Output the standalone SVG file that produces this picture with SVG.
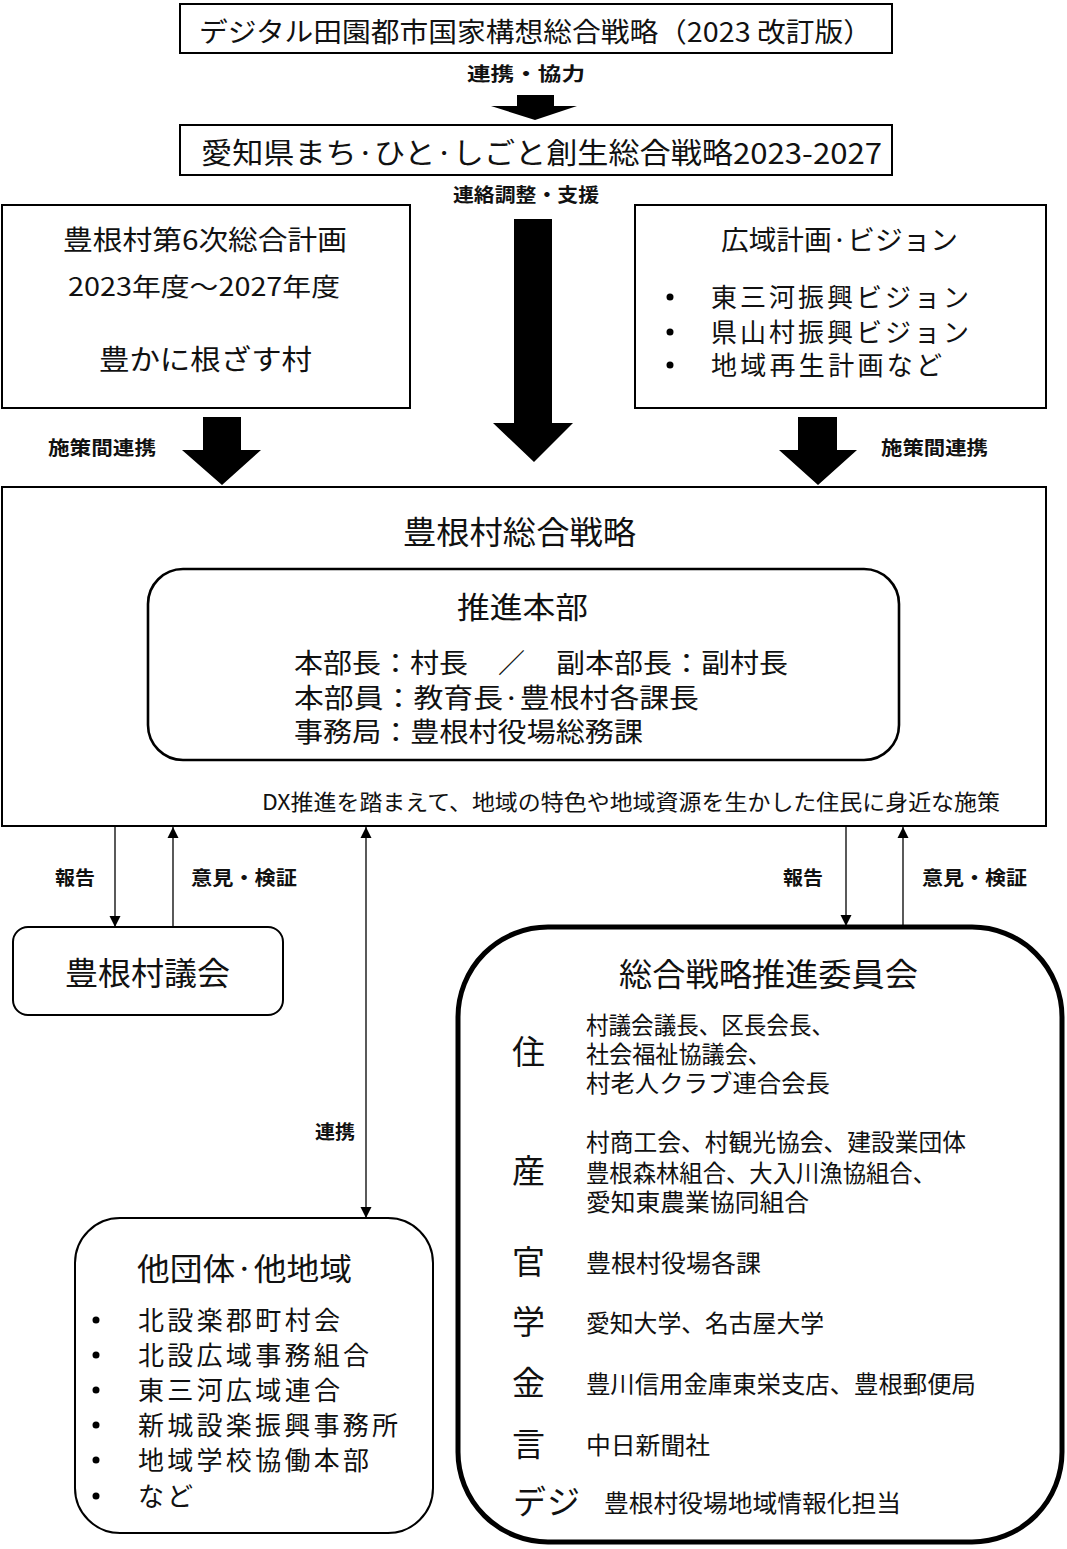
<svg xmlns="http://www.w3.org/2000/svg" width="1067" height="1549" viewBox="0 0 1067 1549">
<style>
text{font-family:"Noto Sans CJK JP","Noto Sans",sans-serif;fill:#111}
.box{fill:#fff;stroke:#000;stroke-width:2}
.lbl{font-size:19px;font-weight:bold}
.ln{stroke:#000;stroke-width:1.3;fill:none}
.big{font-size:33px}
.it{font-size:24px}
</style>
<defs>
<marker id="ah" viewBox="0 0 10 10" refX="10" refY="5" markerWidth="11" markerHeight="13" markerUnits="userSpaceOnUse" orient="auto"><path d="M0,0L10,5L0,10z" fill="#000"/></marker>
<marker id="ahs" viewBox="0 0 10 10" refX="10" refY="5" markerWidth="11" markerHeight="13" markerUnits="userSpaceOnUse" orient="auto-start-reverse"><path d="M0,0L10,5L0,10z" fill="#000"/></marker>
</defs>
<rect width="1067" height="1549" fill="#fff"/>

<g id="national">
<rect class="box" x="180" y="4" width="712" height="49"/>
<text x="199" y="42" font-size="27" textLength="673" lengthAdjust="spacingAndGlyphs">デジタル田園都市国家構想総合戦略（2023 改訂版）</text>
</g>

<g id="aichi">
<rect class="box" x="180" y="125" width="712" height="50"/>
<text x="201" y="163.5" font-size="29" textLength="681" lengthAdjust="spacingAndGlyphs">愛知県まち·ひと·しごと創生総合戦略2023-2027</text>
</g>

<g id="plan6">
<rect class="box" x="2" y="205" width="408" height="203"/>
<text x="63" y="250" font-size="27" textLength="284" lengthAdjust="spacingAndGlyphs">豊根村第6次総合計画</text>
<text x="68" y="296" font-size="25" textLength="272" lengthAdjust="spacingAndGlyphs">2023年度～2027年度</text>
<text x="99" y="370" font-size="28" textLength="213" lengthAdjust="spacingAndGlyphs">豊かに根ざす村</text>
</g>

<g id="vision">
<rect class="box" x="635" y="205" width="411" height="203"/>
<text x="721" y="250" font-size="27" textLength="237" lengthAdjust="spacingAndGlyphs">広域計画·ビジョン</text>
<circle cx="670" cy="297" r="3.5" fill="#000"/>
<circle cx="670" cy="332" r="3.5" fill="#000"/>
<circle cx="670" cy="365" r="3.5" fill="#000"/>
<text x="711" y="306.5" font-size="26" textLength="258" lengthAdjust="spacing">東三河振興ビジョン</text>
<text x="711" y="341.5" font-size="26" textLength="258" lengthAdjust="spacing">県山村振興ビジョン</text>
<text x="711" y="374.5" font-size="26" textLength="231" lengthAdjust="spacing">地域再生計画など</text>
</g>

<g id="strategy">
<rect class="box" x="2" y="487" width="1044" height="339"/>
<text x="403" y="544" font-size="32" textLength="233" lengthAdjust="spacingAndGlyphs">豊根村総合戦略</text>
<rect x="148" y="569" width="751" height="191" rx="35" fill="#fff" stroke="#000" stroke-width="2.6"/>
<text x="457" y="618" font-size="30" textLength="131" lengthAdjust="spacingAndGlyphs">推進本部</text>
<text x="294" y="673" font-size="27" textLength="174" lengthAdjust="spacingAndGlyphs">本部長：村長</text>
<text x="498" y="673" font-size="27">／</text>
<text x="556" y="673" font-size="27" textLength="232" lengthAdjust="spacingAndGlyphs">副本部長：副村長</text>
<text x="294" y="708" font-size="27" textLength="405" lengthAdjust="spacingAndGlyphs">本部員：教育長·豊根村各課長</text>
<text x="294" y="742" font-size="27" textLength="349" lengthAdjust="spacingAndGlyphs">事務局：豊根村役場総務課</text>
<text x="262" y="810" font-size="22" textLength="738" lengthAdjust="spacingAndGlyphs">DX推進を踏まえて、地域の特色や地域資源を生かした住民に身近な施策</text>
</g>

<g id="council">
<rect x="13" y="927" width="270" height="88" rx="15" fill="#fff" stroke="#000" stroke-width="2"/>
<text x="65" y="985" font-size="32" textLength="165" lengthAdjust="spacingAndGlyphs">豊根村議会</text>
</g>

<g id="others">
<rect x="75" y="1218" width="358" height="315" rx="45" fill="#fff" stroke="#000" stroke-width="2"/>
<text x="137" y="1279.5" font-size="31" textLength="215" lengthAdjust="spacingAndGlyphs">他団体·他地域</text>
<g fill="#000">
<circle cx="96" cy="1320" r="3.5"/><circle cx="96" cy="1355" r="3.5"/><circle cx="96" cy="1390" r="3.5"/>
<circle cx="96" cy="1425" r="3.5"/><circle cx="96" cy="1460" r="3.5"/><circle cx="96" cy="1496" r="3.5"/>
</g>
<text x="138" y="1329.5" font-size="26" textLength="202" lengthAdjust="spacing">北設楽郡町村会</text>
<text x="138" y="1364.5" font-size="26" textLength="231" lengthAdjust="spacing">北設広域事務組合</text>
<text x="138" y="1399.5" font-size="26" textLength="202" lengthAdjust="spacing">東三河広域連合</text>
<text x="138" y="1434.5" font-size="26" textLength="260" lengthAdjust="spacing">新城設楽振興事務所</text>
<text x="138" y="1469.5" font-size="26" textLength="231" lengthAdjust="spacing">地域学校協働本部</text>
<text x="138" y="1505.5" font-size="26" textLength="55" lengthAdjust="spacing">など</text>
</g>

<g id="committee">
<rect x="458" y="927" width="604" height="615" rx="90" fill="#fff" stroke="#000" stroke-width="5"/>
<text x="619" y="986" font-size="32" textLength="299" lengthAdjust="spacingAndGlyphs">総合戦略推進委員会</text>
<text class="big" x="512" y="1064">住</text>
<text class="it" x="586" y="1034" textLength="248" lengthAdjust="spacingAndGlyphs">村議会議長、区長会長、</text>
<text class="it" x="586" y="1063" textLength="185" lengthAdjust="spacingAndGlyphs">社会福祉協議会、</text>
<text class="it" x="586" y="1092" textLength="244" lengthAdjust="spacingAndGlyphs">村老人クラブ連合会長</text>
<text class="big" x="512" y="1183">産</text>
<text class="it" x="586" y="1151" textLength="380" lengthAdjust="spacingAndGlyphs">村商工会、村観光協会、建設業団体</text>
<text class="it" x="586" y="1182" textLength="350" lengthAdjust="spacingAndGlyphs">豊根森林組合、大入川漁協組合、</text>
<text class="it" x="586" y="1211" textLength="223" lengthAdjust="spacingAndGlyphs">愛知東農業協同組合</text>
<text class="big" x="512" y="1274">官</text>
<text class="it" x="586" y="1272" textLength="175" lengthAdjust="spacingAndGlyphs">豊根村役場各課</text>
<text class="big" x="512" y="1334">学</text>
<text class="it" x="586" y="1332" textLength="238" lengthAdjust="spacingAndGlyphs">愛知大学、名古屋大学</text>
<text class="big" x="512" y="1395">金</text>
<text class="it" x="586" y="1393" textLength="390" lengthAdjust="spacingAndGlyphs">豊川信用金庫東栄支店、豊根郵便局</text>
<text class="big" x="512" y="1456">言</text>
<text class="it" x="586" y="1454" textLength="124" lengthAdjust="spacingAndGlyphs">中日新聞社</text>
<text class="big" x="513" y="1514" textLength="67" lengthAdjust="spacing">デジ</text>
<text class="it" x="604" y="1512" textLength="297" lengthAdjust="spacingAndGlyphs">豊根村役場地域情報化担当</text>
</g>

<g id="connectors">
<polygon points="517,95 554,95 554,106 577,106 535,120 491,106 517,106" fill="#000"/>
<polygon points="514,219 552,219 552,423 573,423 534,462 493,423 514,423" fill="#000"/>
<polygon points="203,417 241,417 241,450 261,450 222,485 182,450 203,450" fill="#000"/>
<polygon points="798,417 837,417 837,450 857,450 818,485 779,450 798,450" fill="#000"/>
<line class="ln" x1="115" y1="826" x2="115" y2="927" marker-end="url(#ah)"/>
<line class="ln" x1="173" y1="927" x2="173" y2="827" marker-end="url(#ah)"/>
<line class="ln" x1="366" y1="827" x2="366" y2="1218" marker-start="url(#ahs)" marker-end="url(#ah)"/>
<line class="ln" x1="846" y1="826" x2="846" y2="926" marker-end="url(#ah)"/>
<line class="ln" x1="903" y1="926" x2="903" y2="827" marker-end="url(#ah)"/>
<text class="lbl" x="467" y="80.5" font-size="18" textLength="118" lengthAdjust="spacingAndGlyphs">連携・協力</text>
<text class="lbl" x="453" y="201.5" font-size="18" textLength="146" lengthAdjust="spacingAndGlyphs">連絡調整・支援</text>
<text class="lbl" x="48" y="455" textLength="108" lengthAdjust="spacingAndGlyphs">施策間連携</text>
<text class="lbl" x="881" y="455" textLength="107" lengthAdjust="spacingAndGlyphs">施策間連携</text>
<text class="lbl" x="55" y="885" textLength="40" lengthAdjust="spacingAndGlyphs">報告</text>
<text class="lbl" x="191" y="885" textLength="106" lengthAdjust="spacingAndGlyphs">意見・検証</text>
<text class="lbl" x="783" y="885" textLength="40" lengthAdjust="spacingAndGlyphs">報告</text>
<text class="lbl" x="922" y="885" textLength="105" lengthAdjust="spacingAndGlyphs">意見・検証</text>
<text class="lbl" x="315" y="1139" textLength="40" lengthAdjust="spacingAndGlyphs">連携</text>
</g>
</svg>
